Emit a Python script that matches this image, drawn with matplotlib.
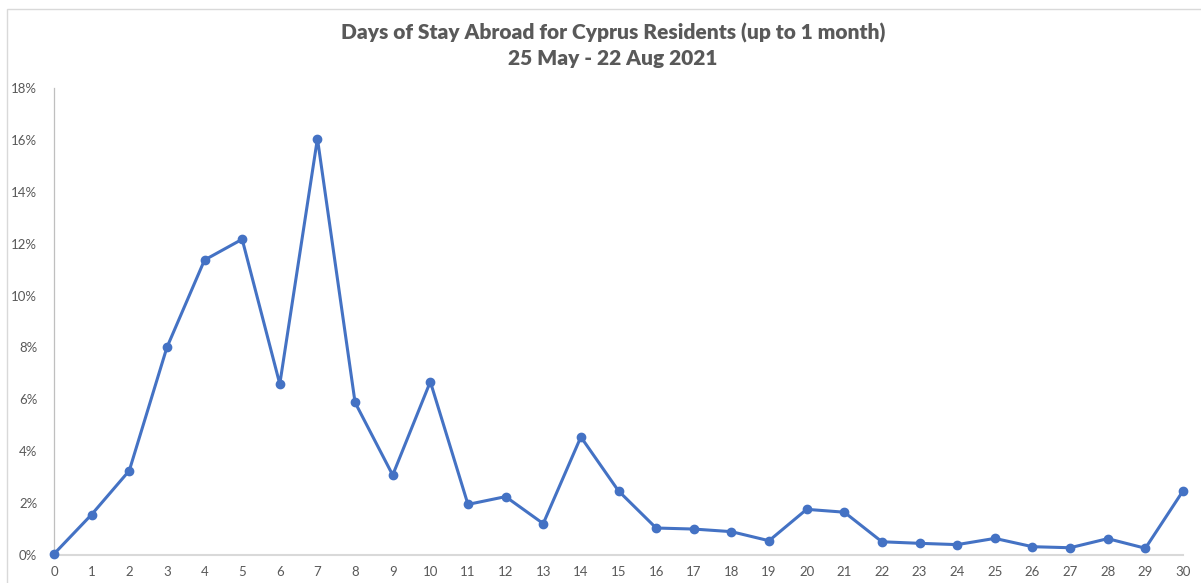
import matplotlib
matplotlib.use("Agg")
import matplotlib.pyplot as plt
from matplotlib.patches import Rectangle
from matplotlib.ticker import FuncFormatter, MultipleLocator

days = list(range(0, 31))
share_pct = [0.04, 1.56, 3.25, 8.00, 11.37, 12.17, 6.59, 16.05, 5.88, 3.08,
             6.68, 1.95, 2.25, 1.21, 4.55, 2.47, 1.04, 1.00, 0.90, 0.55,
             1.76, 1.65, 0.51, 0.45, 0.40, 0.64, 0.32, 0.28, 0.63, 0.26,
             2.47]
title_lines = ["Days of Stay Abroad for Cyprus Residents (up to 1 month)",
               "25 May - 22 Aug 2021"]

plt.rcParams['font.family'] = ['Lato', 'DejaVu Sans']
gray = '#595959'

fig = plt.figure(figsize=(12.01, 5.83), dpi=100)
fig.patch.set_facecolor('white')
fig.patches.append(Rectangle((6.5/1201, -0.1), 1.2, 1.1 - 8.5/583,
                             transform=fig.transFigure, fill=False,
                             edgecolor='#d9d9d9', linewidth=1.0))

ax = fig.add_axes([54/1201, 1 - 555/583, (1183 - 54)/1201, (555 - 88)/583])
ax.plot(days, share_pct, color='#4472C4', linewidth=2.2, marker='o',
        markersize=6, clip_on=False, zorder=3)

ax.set_xlim(0, 30)
ax.set_ylim(0, 18)
ax.xaxis.set_major_locator(MultipleLocator(1))
ax.yaxis.set_major_locator(MultipleLocator(2))
ax.yaxis.set_major_formatter(FuncFormatter(lambda v, p: f"{int(round(v))}%"))

for s in ['top', 'right']:
    ax.spines[s].set_visible(False)
ax.spines['left'].set_color('#bfbfbf')
ax.spines['left'].set_linewidth(0.9)
ax.spines['bottom'].set_color('#d9d9d9')
ax.spines['bottom'].set_linewidth(1.5)
ax.tick_params(axis='both', length=0, colors=gray, labelsize=9.5)
ax.tick_params(axis='x', pad=8)
ax.tick_params(axis='y', pad=12)

fig.text(613/1201, 1 - 33/583, title_lines[0], ha='center', va='center',
         fontsize=15, fontweight='heavy', color=gray)
fig.text(613/1201, 1 - 58/583, title_lines[1], ha='center', va='center',
         fontsize=15, fontweight='heavy', color=gray)

fig.savefig('out.png', dpi=100, facecolor='white')
